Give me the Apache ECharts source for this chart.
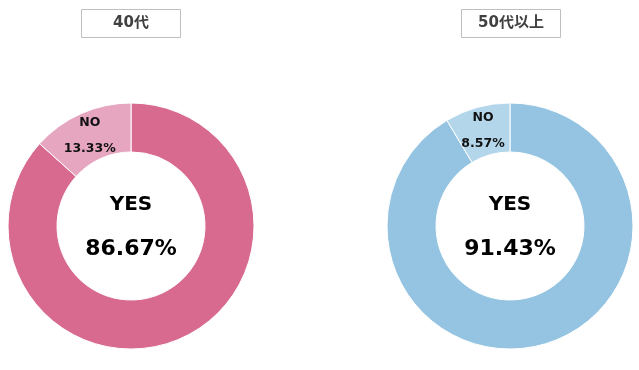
<!DOCTYPE html>
<html>
<head>
<meta charset="utf-8">
<script src="https://cdn.jsdelivr.net/npm/echarts@6/dist/echarts.min.js"></script>
<style>
html,body{margin:0;padding:0;background:#fff;}
#chart{width:639px;height:370px;}
</style>
</head>
<body>
<div id="chart"></div>
<script>
const categories = ['YES', 'NO'];
const groupTitles = ['40代', '50代以上'];
const values40 = [86.67, 13.33];
const values50 = [91.43, 8.57];

const FONT = "'DejaVu Sans', 'Noto Sans CJK JP', sans-serif";
const pinkColors = ['#D86A8F', '#E6A6C0'];
const blueColors = ['#94C4E1', '#B3D6EA'];

function buildData(values, colors) {
  return categories.map((name, i) => ({
    name: name,
    value: values[i],
    itemStyle: { color: colors[i] },
    label: i === 0 ? {
      position: 'center',
      formatter: p => '{a|' + p.name + '}\n{b|' + p.value.toFixed(2) + '%}',
      rich: {
        a: { fontFamily: FONT, fontWeight: 'bold', fontSize: 20, lineHeight: 47, color: '#000' },
        b: { fontFamily: FONT, fontWeight: 'bold', fontSize: 22, lineHeight: 43, color: '#000' }
      }
    } : {
      position: 'inside',
      formatter: p => '{a|' + p.name + '}\n{b|' + p.value.toFixed(2) + '%}',
      rich: {
        a: { fontFamily: FONT, fontWeight: 'bold', fontSize: 12.5, lineHeight: 31, color: '#111' },
        b: { fontFamily: FONT, fontWeight: 'bold', fontSize: 12.5, lineHeight: 21, color: '#111' }
      }
    }
  }));
}

function pieSeries(values, colors, cx) {
  return {
    type: 'pie',
    center: [cx, 226],
    radius: [74, 123],
    startAngle: 90,
    clockwise: true,
    avoidLabelOverlap: false,
    labelLine: { show: false },
    itemStyle: { borderColor: '#fff', borderWidth: 1 },
    emphasis: { disabled: true },
    label: { show: true },
    data: buildData(values, colors)
  };
}

function titleBox(text, x) {
  return {
    type: 'group',
    children: [
      { type: 'rect', shape: { x: x + 0.5, y: 9.5, width: 99, height: 28 },
        style: { fill: '#fff', stroke: '#BFBFBF', lineWidth: 1 } },
      { type: 'text', x: x + 50, y: 23.5,
        style: { text: text, fill: '#404040', font: 'bold 15px ' + FONT, align: 'center', verticalAlign: 'middle' } }
    ]
  };
}

const chart = echarts.init(document.getElementById('chart'), null, { renderer: 'canvas' });
chart.setOption({
  animation: false,
  backgroundColor: '#fff',
  graphic: [titleBox(groupTitles[0], 81), titleBox(groupTitles[1], 461)],
  series: [
    pieSeries(values40, pinkColors, 131),
    pieSeries(values50, blueColors, 510)
  ]
});
</script>
</body>
</html>
